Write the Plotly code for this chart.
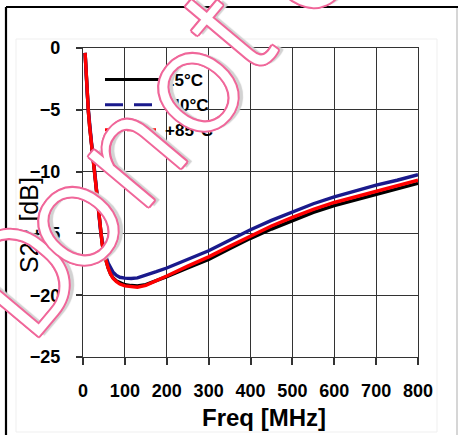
import plotly.graph_objects as go

# ---- data ----
freq_mhz = [5, 7, 10, 13, 16, 19, 23, 28, 32, 35, 39, 42, 46, 50, 55, 60, 66, 72, 80, 88,
            100, 115, 130, 150, 175, 200, 250, 300, 350, 400, 450, 500, 550, 600, 650,
            700, 750, 800]
s22_25c = [-0.4, -2.0, -3.6, -5.2, -6.4, -7.4, -8.7, -10.1, -11.6, -12.8, -14.1, -15.0,
           -15.9, -16.6, -17.3, -17.8, -18.3, -18.6, -18.85, -19.0, -19.15, -19.22,
           -19.25, -19.15, -18.85, -18.5, -17.8, -17.1, -16.25, -15.4, -14.65, -13.95,
           -13.3, -12.75, -12.3, -11.85, -11.4, -10.95]
s22_m40c = [-0.4, -2.0, -3.6, -5.1, -6.3, -7.3, -8.6, -10.0, -11.5, -12.6, -13.9, -14.8,
            -15.6, -16.3, -16.9, -17.4, -17.85, -18.15, -18.4, -18.55, -18.62, -18.65,
            -18.6, -18.4, -18.1, -17.8, -17.1, -16.4, -15.55, -14.7, -13.95, -13.25,
            -12.6, -12.05, -11.55, -11.1, -10.7, -10.25]
s22_p85c = [-0.4, -2.0, -3.6, -5.2, -6.4, -7.4, -8.7, -10.1, -11.6, -12.8, -14.1, -15.0,
            -15.9, -16.6, -17.3, -17.8, -18.3, -18.65, -18.9, -19.1, -19.25, -19.33,
            -19.35, -19.2, -18.85, -18.45, -17.65, -16.9, -16.05, -15.2, -14.4, -13.7,
            -13.05, -12.5, -12.05, -11.6, -11.15, -10.7]
series_names = ["25°C", "-40°C", "+85°C"]
x_ticks = [0, 100, 200, 300, 400, 500, 600, 700, 800]
y_ticks = [0, -5, -10, -15, -20, -25]
x_title = "Freq [MHz]"
y_title = "S22 [dB]"
watermark_letters = ["D", "o", "n", "o", "t", "c", "o", "p", "y"]

# ---- layout helpers (pixel -> paper) ----
L, R, T, B = 83, 418, 48, 357
def PX(px):
    return (px - L) / (R - L)
def PY(py):
    return (B - py) / (B - T)

FONT = "Arial, Liberation Sans, sans-serif"

fig = go.Figure()
colors = ["#000000", "#1a1a8c", "#ff0000"]
dashes = ["solid", "18px,11px", "7px,4px"]
for ys, c in zip([s22_25c, s22_m40c, s22_p85c], colors):
    fig.add_trace(go.Scatter(x=freq_mhz, y=ys, mode="lines", showlegend=False,
                             line=dict(color=c, width=3.4), hoverinfo="skip"))
for name, c, d in zip(series_names, colors, dashes):
    fig.add_trace(go.Scatter(x=[None], y=[None], mode="lines", name=name,
                             line=dict(color=c, width=3, dash=d)))

fig.update_layout(
    width=458, height=435,
    margin=dict(l=L, r=458 - R, t=T, b=435 - B),
    paper_bgcolor="white", plot_bgcolor="white",
    font=dict(family=FONT, color="black"),
    showlegend=True,
    legend=dict(x=PX(100), y=PY(62), xanchor="left", yanchor="top",
                bgcolor="rgba(0,0,0,0)", borderwidth=0,
                font=dict(size=17, weight="bold", family=FONT),
                itemwidth=55, tracegroupgap=0),
)
fig.update_xaxes(range=[0, 800], tickvals=x_ticks, ticks="outside", ticklen=7,
                 tickwidth=1.5, tickcolor="#333", showgrid=True, gridcolor="#333",
                 gridwidth=1.4, showline=True, linecolor="#333", linewidth=1.4,
                 mirror=True, zeroline=False, ticklabelstandoff=10,
                 tickfont=dict(size=18, weight="bold", family=FONT))
fig.update_yaxes(range=[-25, 0], tickvals=y_ticks, ticks="outside", ticklen=6,
                 tickwidth=1.5, tickcolor="#333", showgrid=True, gridcolor="#333",
                 gridwidth=1.4, showline=True, linecolor="#333", linewidth=1.4,
                 mirror=True, zeroline=False, ticklabelstandoff=12,
                 tickfont=dict(size=18, weight="bold", family=FONT))

# axis titles
fig.add_annotation(text=x_title, x=PX(264), y=PY(417), xref="paper", yref="paper",
                   showarrow=False, xanchor="center", yanchor="middle",
                   font=dict(size=24, weight="bold", family=FONT))
fig.add_annotation(text=y_title, x=PX(29), y=PY(225), xref="paper", yref="paper",
                   showarrow=False, xanchor="center", yanchor="middle", textangle=-90,
                   font=dict(size=25, family=FONT))

# frame
fig.add_shape(type="rect", xref="paper", yref="paper", x0=PX(16), x1=PX(437),
              y0=PY(432), y1=PY(39), line=dict(color="#efefef", width=1), layer="below")
fig.add_shape(type="line", xref="paper", yref="paper", x0=PX(457), x1=PX(457),
              y0=PY(440), y1=PY(7), line=dict(color="#bbbbbb", width=1.2))
fig.add_shape(type="line", xref="paper", yref="paper", x0=PX(6), x1=PX(458),
              y0=PY(7), y1=PY(7), line=dict(color="black", width=2.2))
fig.add_shape(type="line", xref="paper", yref="paper", x0=PX(6), x1=PX(6),
              y0=PY(440), y1=PY(7), line=dict(color="black", width=2.2))

# watermark (outlined pink letters, placed one by one along a diagonal)
pink = "#f0679a"
sh = ", ".join(f"{dx}px {dy}px 0 {pink}" for dx, dy in
               [(-2, 0), (2, 0), (0, -2), (0, 2), (-1.5, -1.5), (1.5, -1.5),
                (-1.5, 1.5), (1.5, 1.5)])
sh += ", 4px 4px 1px #d2d2d2"
letter_px = [(22, 277), (69, 219), (128, 152), (189, 85), (227, 31), (297, -36),
             (341, -89), (385, -142), (427, -192)]
for ch, (lx, ly) in zip(watermark_letters, letter_px):
    fig.add_annotation(text=ch, x=PX(lx), y=PY(ly), xref="paper", yref="paper",
                       showarrow=False, xanchor="center", yanchor="middle",
                       textangle=-50,
                       font=dict(size=148, family="Roboto, Arial, sans-serif",
                                 weight=300, color="white", shadow=sh))

fig.write_html("out.html", config={"displayModeBar": False},
               post_script="document.body.style.margin='0';document.body.style.padding='0';")
